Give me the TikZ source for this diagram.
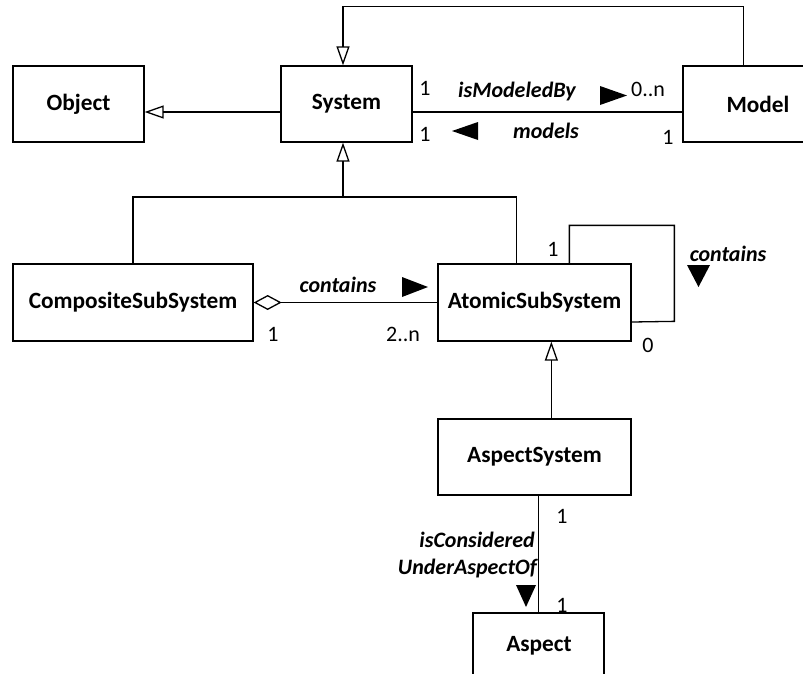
\documentclass[tikz,border=0pt]{standalone}
\usepackage{fontspec}
\setmainfont{Carlito}
\usetikzlibrary{arrows.meta}
\tikzset{
  cls/.style={draw=black, line width=1.3pt, fill=white, minimum width=131pt, minimum height=76pt,
     inner sep=0pt, font=\fontsize{23.3}{27}\selectfont\bfseries},
  lbl/.style={inner sep=0pt, font=\fontsize{22}{26}\selectfont\bfseries\itshape},
  num/.style={inner sep=0pt, font=\fontsize{22}{26}\selectfont},
  conn/.style={draw=black, line width=1.3pt},
  gen/.style={conn, -{Triangle[open, length=19pt, width=13pt, line width=1.3pt]}},
  agg/.style={conn, -{Diamond[open, length=28pt, width=15pt, line width=1.3pt]}},
}
\begin{document}
\begin{tikzpicture}[x=1pt, y=-1pt]
\useasboundingbox (0,0) rectangle (803,673);
\clip (0,0) rectangle (803,673);

% classes
\node[cls] (obj) at (78.5,104) {Object};
\node[cls] (sys) at (346.5,104) {System};
\node[cls, minimum width=150pt] (model) at (758,104) {Model};
\node[cls, minimum width=240pt, minimum height=77pt] (css) at (133,302.5) {CompositeSubSystem};
\node[cls, minimum width=193pt, minimum height=77pt] (atomic) at (534.5,302.5) {AtomicSubSystem};
\node[cls, minimum width=193pt] (aspsys) at (534.5,457) {AspectSystem};
\node[cls, minimum height=77pt, text depth=0pt] (aspect) at (538.5,651.5) {};
\node[cls, draw=none, fill=none, minimum width=0pt, minimum height=0pt] (aspecttext) at (539,646) {Aspect};

% System -- Object generalization
\draw[gen] (sys.west |- 0,112) -- (obj.east |- 0,112);
% Model -> System generalization (top)
\draw[gen] ([xshift=61pt]model.north west) -- ++(0,-59) -| ([xshift=-3.5pt]sys.north);
% System -- Model association
\draw[conn] (sys.east |- 0,112) -- (model.west |- 0,112);

% generalizations of subsystems
\coordinate (j) at (343,197);
\draw[conn] (css.north) |- (j);
\draw[conn] ([xshift=79pt]atomic.north west) |- (j);
\draw[gen] (j) -- ([xshift=-3.5pt]sys.south);

% aggregation
\draw[agg] (atomic.west) -- (css.east);

% self association
\draw[conn] ([xshift=132pt]atomic.north west) -- ++(0,-38) -- ++(105,0) -- ++(0,96) -- (atomic.east |- 0,322);

% AspectSystem -> AtomicSubSystem
\draw[gen] ([xshift=114pt]aspsys.north west) -- ([xshift=114pt]atomic.south west);

% AspectSystem -- Aspect
\draw[conn] (aspsys.south -| aspect.north) -- (aspect.north);

% labels System--Model
\node[num] (n1) at (425,88) {1};
\node[lbl] (ismod) at (517,92) {isModeledBy};
\fill (600,86) -- (627,95.5) -- (600,105) -- cycle;
\node[num] (n0n) at (648,89) {0..n};
\node[num] (n2) at (425,134) {1};
\fill (478,122) -- (452,131) -- (478,140) -- cycle;
\node[lbl] (models) at (546,131) {models};
\node[num] (n3) at (668,137) {1};

% aggregation labels
\node[lbl] (cont1) at (338,285) {contains};
\fill (402,277) -- (428,287) -- (402,297) -- cycle;
\node[num] (n4) at (273,334) {1};
\node[num] (n5) at (403,334) {2..n};

% self association labels
\node[num] (n6) at (553,249) {1};
\node[lbl] (cont2) at (728,254) {contains};
\fill (687,265) -- (710,265) -- (698.5,287) -- cycle;
\node[num] (n7) at (648,345) {0};

% aspect labels
\node[num] (n8) at (562,516) {1};
\node[lbl, anchor=east] (iscons) at (535,540) {isConsidered};
\node[lbl, anchor=east] (under) at (537,568) {UnderAspectOf};
\fill (516,585) -- (536,585) -- (526,607) -- cycle;
\node[num] (n9) at (562,605) {1};
\end{tikzpicture}
\end{document}
